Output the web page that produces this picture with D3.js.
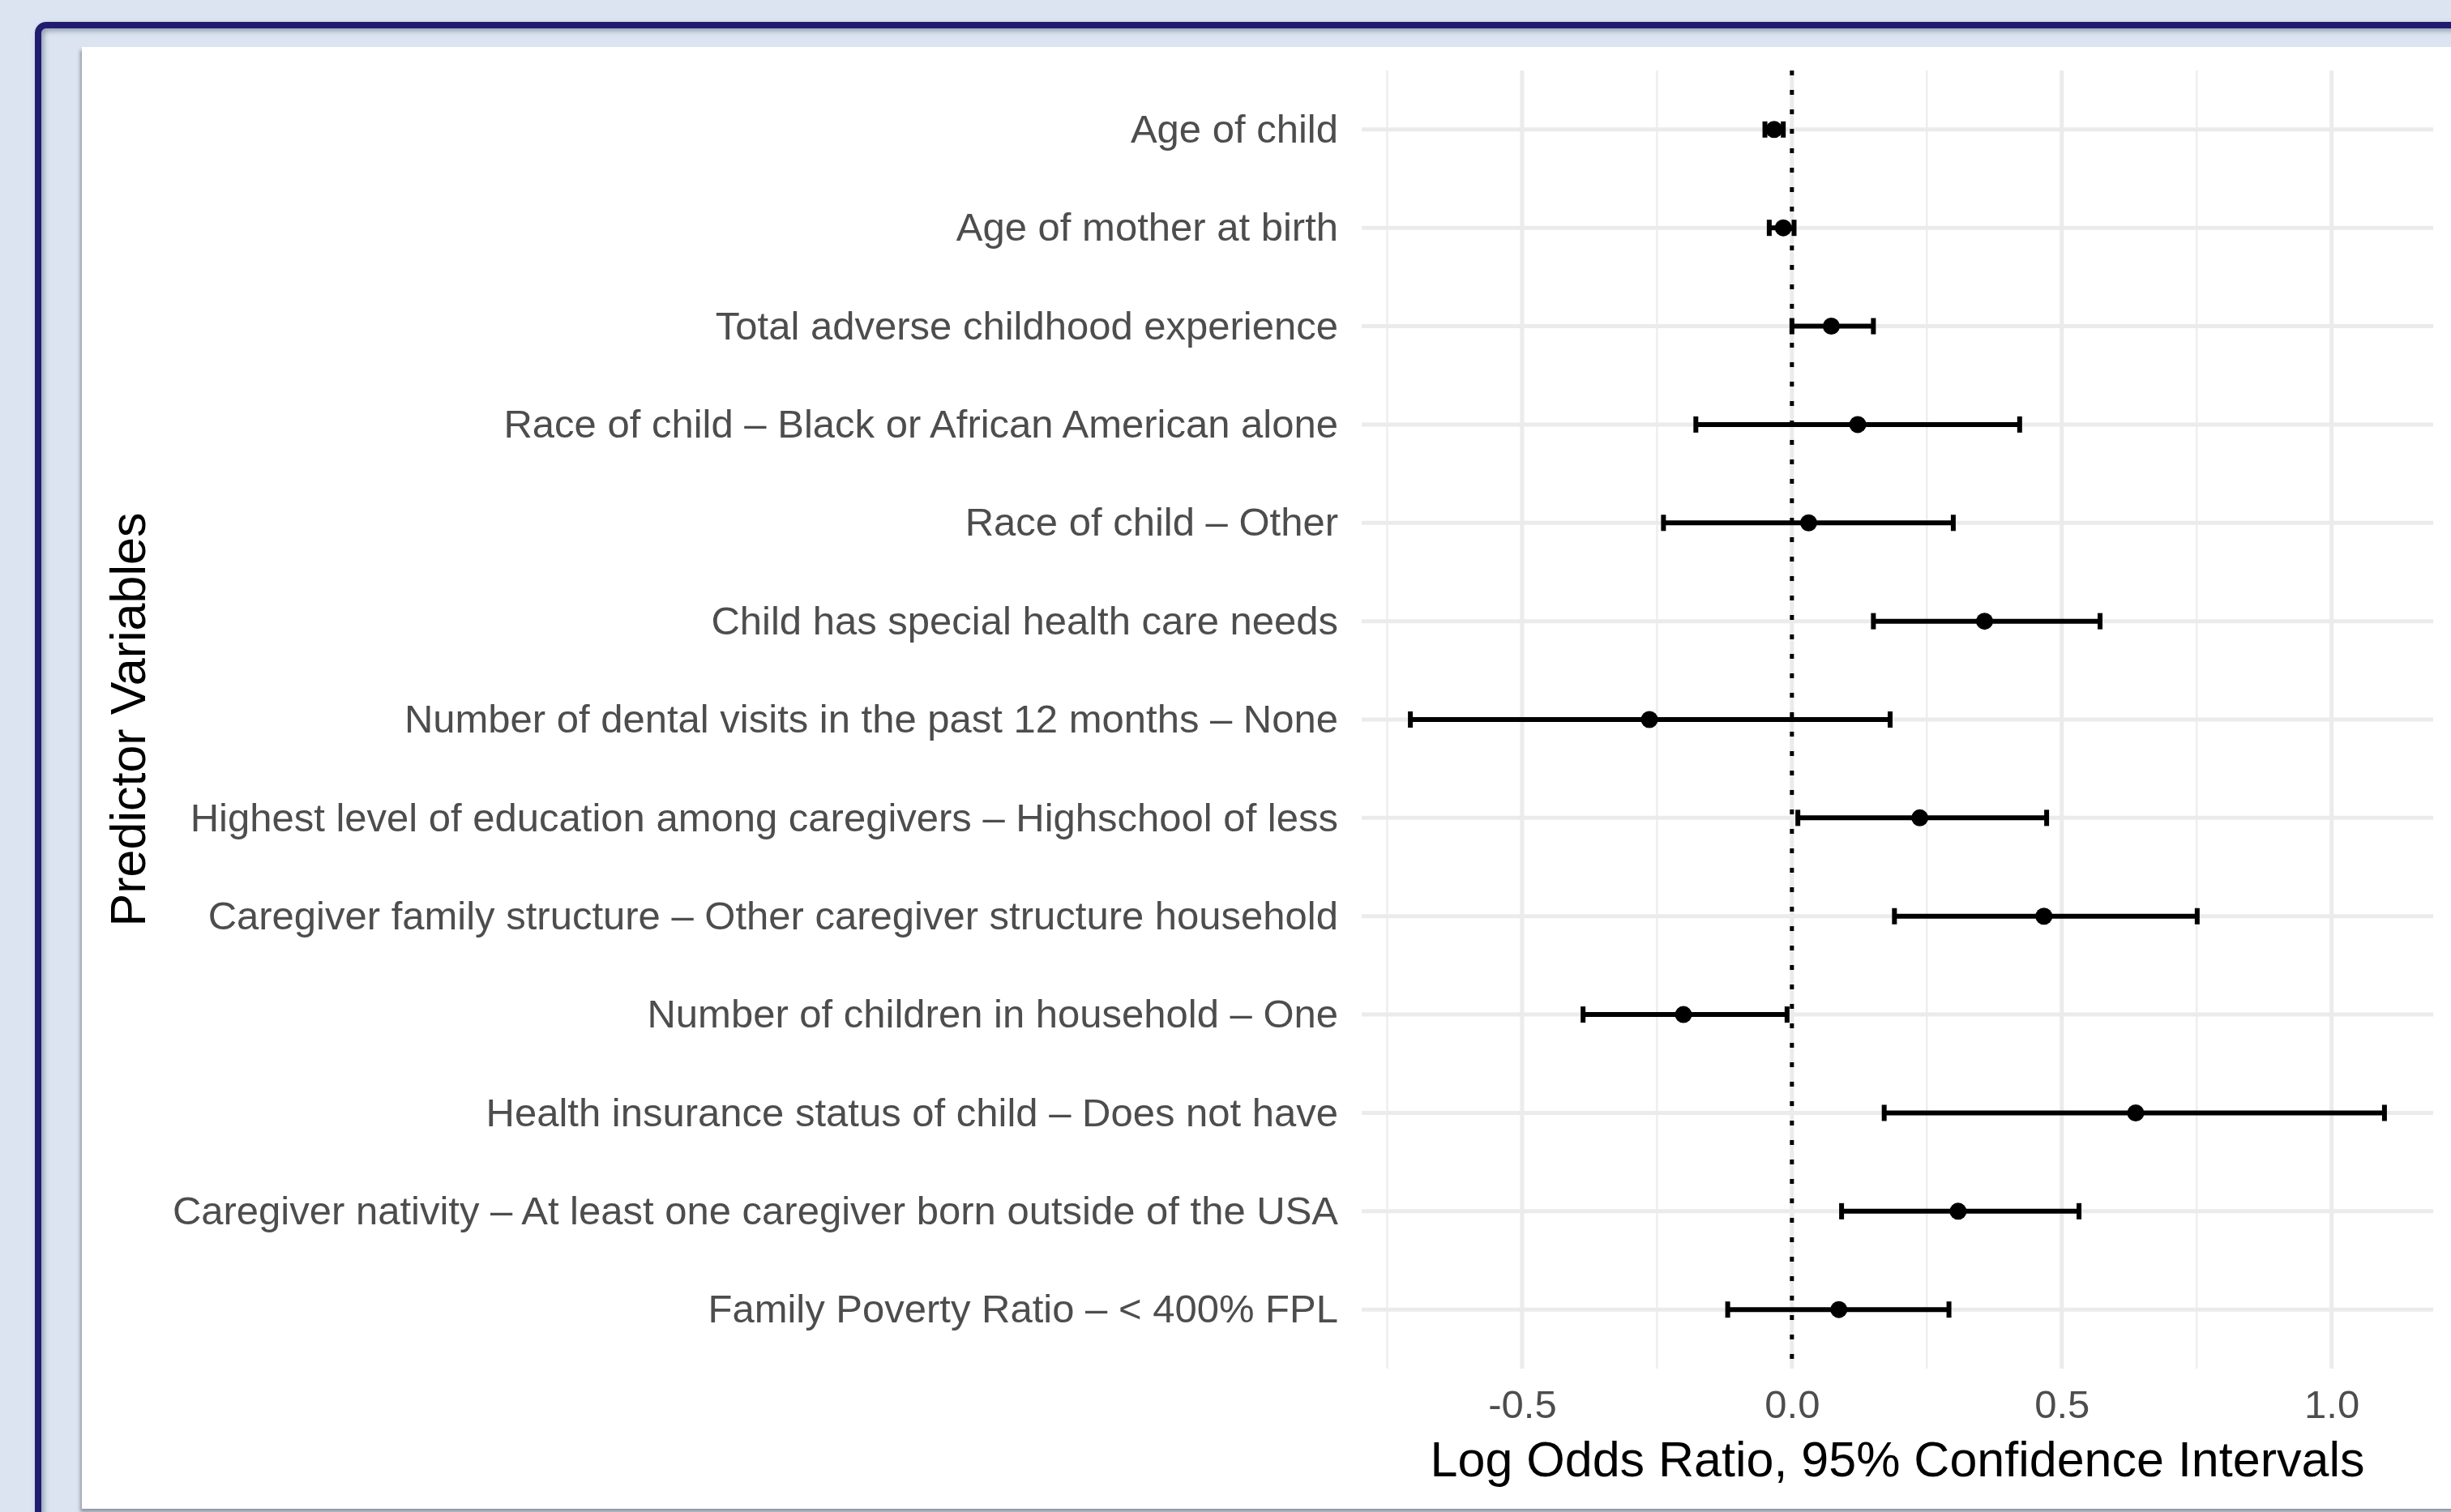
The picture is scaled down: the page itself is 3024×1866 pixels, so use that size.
<!DOCTYPE html>
<html>
<head>
<meta charset="utf-8">
<script src="https://cdn.jsdelivr.net/npm/d3@7"></script>
<style>
  html, body { margin: 0; padding: 0; background: #dbe4f0; overflow: hidden; }
  svg { display: block; }
</style>
</head>
<body>
<div id="chart"></div>
<script>
// Predictor names, top to bottom
var predictors = [
  "Age of child",
  "Age of mother at birth",
  "Total adverse childhood experience",
  "Race of child \u2013 Black or African American alone",
  "Race of child \u2013 Other",
  "Child has special health care needs",
  "Number of dental visits in the past 12 months \u2013 None",
  "Highest level of education among caregivers \u2013 Highschool of less",
  "Caregiver family structure \u2013 Other caregiver structure household",
  "Number of children in household \u2013 One",
  "Health insurance status of child \u2013 Does not have",
  "Caregiver nativity \u2013 At least one caregiver born outside of the USA",
  "Family Poverty Ratio \u2013 < 400% FPL"
];

// Log odds ratio estimates and 95% CI bounds
var estimates = [-0.033, -0.016, 0.073, 0.122, 0.031, 0.357, -0.264, 0.237, 0.467, -0.201, 0.637, 0.308, 0.087];
var lowerCI   = [-0.050, -0.042, 0.000, -0.178, -0.238, 0.151, -0.707, 0.011, 0.190, -0.387, 0.171, 0.092, -0.119];
var upperCI   = [-0.016, 0.004, 0.151, 0.422, 0.299, 0.571, 0.182, 0.472, 0.751, -0.009, 1.098, 0.532, 0.291];

// Axis ticks
var majorTicks = [-0.5, 0.0, 0.5, 1.0];
var minorTicks = [-0.75, -0.25, 0.25, 0.75];
var tickLabels = ["-0.5", "0.0", "0.5", "1.0"];

var W = 3024, H = 1866;
var font = "'Liberation Sans', Arial, Helvetica, sans-serif";

var data = predictors.map(function (p, i) {
  return { name: p, est: estimates[i], lo: lowerCI[i], hi: upperCI[i] };
});

var svg = d3.select("#chart").append("svg")
  .attr("width", W)
  .attr("height", H);

var defs = svg.append("defs");
defs.append("filter").attr("id", "borderShadow")
  .attr("x", "-5%").attr("y", "-5%").attr("width", "110%").attr("height", "110%")
  .append("feDropShadow")
  .attr("dx", 3).attr("dy", 3).attr("stdDeviation", 3)
  .attr("flood-color", "#6f7f95").attr("flood-opacity", 0.7);
defs.append("filter").attr("id", "panelShadow")
  .attr("x", "-5%").attr("y", "-5%").attr("width", "110%").attr("height", "110%")
  .append("feDropShadow")
  .attr("dx", -2).attr("dy", 4).attr("stdDeviation", 2)
  .attr("flood-color", "#7c8390").attr("flood-opacity", 0.8);

// Page background
svg.append("rect")
  .attr("width", W).attr("height", H)
  .attr("fill", "#dbe4f0");

// Navy frame
svg.append("rect")
  .attr("x", 47).attr("y", 31)
  .attr("width", W + 200).attr("height", H + 200)
  .attr("rx", 10)
  .attr("fill", "none")
  .attr("stroke", "#211d70")
  .attr("stroke-width", 8)
  .attr("filter", "url(#borderShadow)");

// White chart panel
svg.append("rect")
  .attr("x", 101).attr("y", 58)
  .attr("width", W).attr("height", 1862 - 58)
  .attr("fill", "#ffffff")
  .attr("filter", "url(#panelShadow)");

// Scales
var xMin = d3.min(lowerCI), xMax = d3.max(upperCI);
var pad = (xMax - xMin) * 0.05;
var x = d3.scaleLinear()
  .domain([xMin - pad, xMax + pad])
  .range([1680, 3002]);

var plotTop = 87, plotBottom = 1689;

var y = d3.scalePoint()
  .domain(predictors)
  .range([plotTop, plotBottom])
  .padding(0.6);

// Grid lines
var grid = svg.append("g");
grid.selectAll(".minor")
  .data(minorTicks)
  .enter().append("line")
  .attr("x1", function (d) { return x(d); })
  .attr("x2", function (d) { return x(d); })
  .attr("y1", plotTop).attr("y2", plotBottom)
  .attr("stroke", "#eeeeee")
  .attr("stroke-width", 2.5);

grid.selectAll(".major")
  .data(majorTicks)
  .enter().append("line")
  .attr("x1", function (d) { return x(d); })
  .attr("x2", function (d) { return x(d); })
  .attr("y1", plotTop).attr("y2", plotBottom)
  .attr("stroke", "#ebebeb")
  .attr("stroke-width", 5);

grid.selectAll(".hgrid")
  .data(predictors)
  .enter().append("line")
  .attr("x1", x.range()[0]).attr("x2", x.range()[1])
  .attr("y1", function (d) { return y(d); })
  .attr("y2", function (d) { return y(d); })
  .attr("stroke", "#ebebeb")
  .attr("stroke-width", 5);

// Reference line at zero
svg.append("line")
  .attr("x1", x(0)).attr("x2", x(0))
  .attr("y1", plotTop).attr("y2", plotBottom)
  .attr("stroke", "#000")
  .attr("stroke-width", 5)
  .attr("stroke-dasharray", "6 18");

// Error bars
var rows = svg.selectAll(".row")
  .data(data)
  .enter().append("g")
  .attr("class", "row");

rows.append("line")
  .attr("x1", function (d) { return x(d.lo); })
  .attr("x2", function (d) { return x(d.hi); })
  .attr("y1", function (d) { return y(d.name); })
  .attr("y2", function (d) { return y(d.name); })
  .attr("stroke", "#000")
  .attr("stroke-width", 6);

var capHalf = 10;
rows.append("line")
  .attr("x1", function (d) { return x(d.lo); })
  .attr("x2", function (d) { return x(d.lo); })
  .attr("y1", function (d) { return y(d.name) - capHalf; })
  .attr("y2", function (d) { return y(d.name) + capHalf; })
  .attr("stroke", "#000")
  .attr("stroke-width", 6);

rows.append("line")
  .attr("x1", function (d) { return x(d.hi); })
  .attr("x2", function (d) { return x(d.hi); })
  .attr("y1", function (d) { return y(d.name) - capHalf; })
  .attr("y2", function (d) { return y(d.name) + capHalf; })
  .attr("stroke", "#000")
  .attr("stroke-width", 6);

// Point estimates
rows.append("circle")
  .attr("cx", function (d) { return x(d.est); })
  .attr("cy", function (d) { return y(d.name); })
  .attr("r", 10.5)
  .attr("fill", "#000");

// Y axis labels
var yAxis = svg.append("g")
  .attr("transform", "translate(1680,0)")
  .call(d3.axisLeft(y).tickSize(0).tickPadding(29));
yAxis.select(".domain").remove();
yAxis.selectAll("text")
  .attr("font-family", font)
  .attr("font-size", 49)
  .attr("fill", "#4d4d4d");

// X axis labels
var xAxis = svg.append("g")
  .attr("transform", "translate(0," + plotBottom + ")")
  .call(d3.axisBottom(x)
    .tickValues(majorTicks)
    .tickSize(0)
    .tickPadding(26)
    .tickFormat(function (d, i) { return tickLabels[i]; }));
xAxis.select(".domain").remove();
xAxis.selectAll("text")
  .attr("font-family", font)
  .attr("font-size", 49)
  .attr("fill", "#4d4d4d");

// Axis titles
svg.append("text")
  .attr("x", (x.range()[0] + x.range()[1]) / 2)
  .attr("y", 1822)
  .attr("text-anchor", "middle")
  .attr("font-family", font)
  .attr("font-size", 61)
  .attr("fill", "#000")
  .text("Log Odds Ratio, 95% Confidence Intervals");

svg.append("text")
  .attr("transform", "translate(179," + (plotTop + plotBottom) / 2 + ") rotate(-90)")
  .attr("text-anchor", "middle")
  .attr("font-family", font)
  .attr("font-size", 61)
  .attr("fill", "#000")
  .text("Predictor Variables");
</script>
</body>
</html>
